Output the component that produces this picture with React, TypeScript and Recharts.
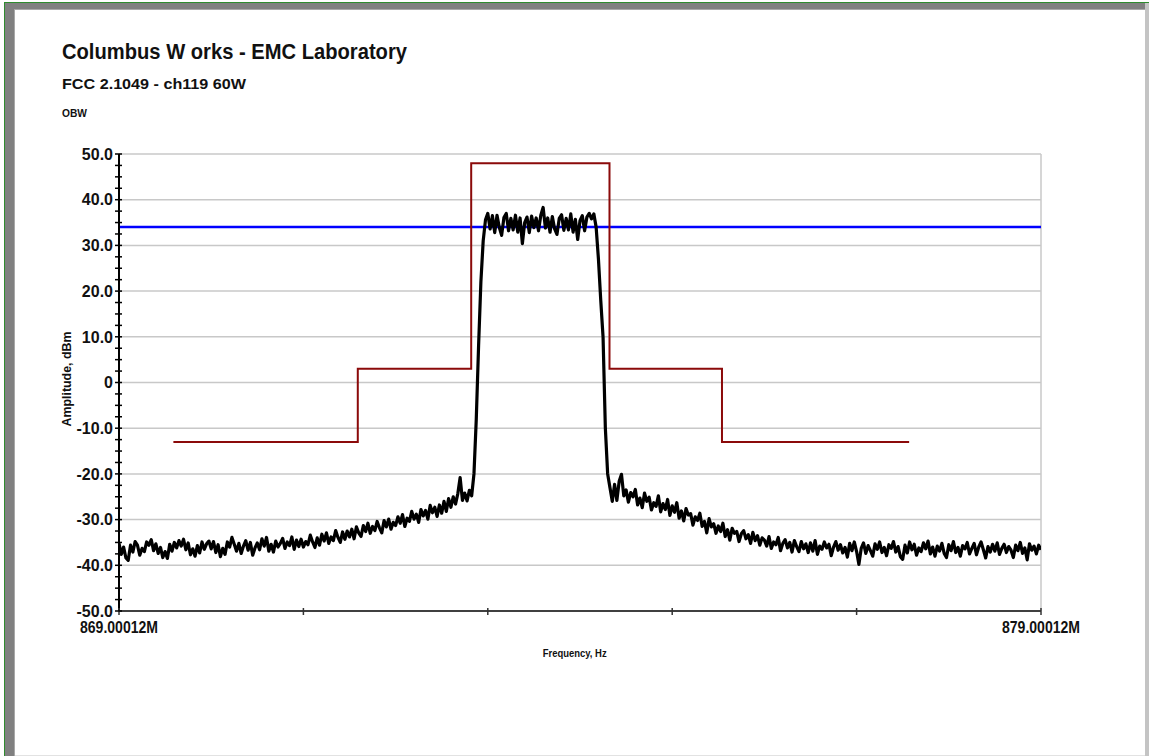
import React from "react";
import { ComposedChart, Line, XAxis, YAxis, ReferenceLine } from "recharts";

// Sweep definition (spectrum analyser span)
const F_START = 869.00012;
const F_STOP = 879.00012;
const F_STEP = 0.025;

// Measured trace amplitude (dBm), one value per sweep point
const traceDbm: number[] = [
  -35.2, -37.6, -36.0, -38.4, -38.9, -35.6, -37.1, -34.8, -35.6, -37.8, -36.3, -37.0, -34.9, -35.6, -34.4, -36.8, -35.3, -37.4, -36.1, -38.3,
  -37.0, -38.5, -35.4, -36.9, -35.0, -36.2, -34.6, -35.8, -34.3, -36.6, -35.1, -37.7, -36.4, -38.0, -35.7, -37.3, -34.9, -36.5, -35.3, -34.7,
  -36.4, -34.8, -37.2, -35.5, -38.1, -36.3, -37.6, -34.9, -36.0, -33.9, -35.4, -36.9, -35.2, -37.4, -35.8, -34.6, -36.7, -35.0, -37.8, -36.2,
  -35.1, -36.6, -34.2, -35.8, -33.9, -36.9, -35.4, -37.1, -34.7, -36.0, -35.2, -34.1, -36.3, -34.9, -35.7, -33.8, -36.5, -34.5, -35.9, -34.3,
  -36.0, -34.8, -35.5, -33.4, -34.9, -36.1, -34.0, -35.6, -33.2, -34.7, -32.9, -35.2, -33.8, -34.6, -32.4, -33.9, -35.0, -32.7, -34.3, -32.5,
  -33.8, -32.1, -34.2, -31.6, -32.9, -33.7, -31.3, -32.6, -30.8, -33.0, -31.5, -32.4, -30.4, -31.8, -32.9, -30.2, -31.6, -29.9, -32.1, -30.6,
  -31.3, -29.4, -30.8, -28.9, -31.5, -29.7, -30.4, -28.2, -29.9, -28.8, -30.6, -27.8, -29.2, -28.0, -29.9, -26.9, -28.5, -27.3, -29.3, -26.8,
  -28.6, -26.0, -28.2, -25.4, -27.3, -25.0, -26.6, -24.3, -20.8, -25.8, -24.2, -25.9, -23.6, -24.8, -20.0, -8.0, 8.0, 22.0, 31.0, 35.6,
  37.0, 33.6, 36.5, 32.8, 36.6, 33.9, 32.2, 36.1, 37.0, 33.2, 35.9, 33.4, 36.6, 32.9, 36.0, 30.4, 35.0, 36.2, 32.8, 36.4,
  33.9, 36.0, 33.2, 36.6, 38.3, 33.8, 36.0, 32.9, 36.3, 33.6, 32.4, 35.9, 36.7, 33.3, 35.9, 33.4, 36.9, 32.9, 35.7, 31.3,
  35.4, 36.5, 33.2, 36.2, 37.0, 35.8, 36.9, 34.0, 27.0, 18.0, 10.0, -10.0, -20.0, -23.0, -26.0, -22.3, -25.8, -21.6, -20.1, -24.8,
  -23.5, -26.2, -24.1, -25.0, -23.4, -26.8, -25.3, -27.4, -24.2, -26.0, -25.1, -27.9, -26.3, -27.1, -24.8, -28.3, -26.5, -27.8, -25.6, -29.1,
  -27.0, -28.4, -26.3, -29.7, -28.1, -30.3, -27.6, -29.0, -28.7, -31.2, -29.4, -30.2, -28.6, -31.5, -30.4, -32.9, -29.8, -31.6, -30.9, -33.0,
  -31.4, -32.6, -30.8, -33.7, -32.2, -34.5, -31.9, -33.0, -32.6, -34.8, -33.1, -32.4, -34.2, -33.3, -35.2, -32.8, -34.6, -33.5, -35.6, -34.0,
  -34.5, -35.8, -33.7, -36.3, -34.9, -35.5, -33.9, -36.8, -35.2, -34.4, -36.2, -35.0, -37.1, -34.6, -35.9, -37.0, -34.8, -36.4, -35.3, -37.2,
  -35.1, -36.9, -34.6, -37.6, -35.8, -36.5, -34.9, -36.2, -35.4, -37.9, -36.0, -34.8, -36.7, -35.5, -37.3, -36.1, -38.2, -35.2, -36.8, -34.9,
  -37.0, -39.8, -36.3, -35.1, -37.4, -35.7, -36.8, -38.0, -35.3, -36.5, -34.9, -37.2, -36.1, -37.9, -35.5, -36.3, -34.8, -37.1, -35.9, -38.1,
  -38.7, -35.6, -37.3, -34.9, -36.6, -35.4, -37.8, -36.2, -37.0, -35.1, -36.4, -34.7, -37.5, -36.0, -38.0, -35.8, -36.9, -35.2, -37.4, -38.3,
  -35.5, -36.8, -34.8, -37.2, -36.1, -38.0, -35.7, -36.4, -35.0, -37.5, -36.3, -35.2, -37.7, -36.0, -34.9, -36.6, -38.4, -35.9, -37.1, -35.4,
  -36.9, -35.1, -37.6, -36.3, -35.4, -37.2, -35.9, -36.7, -38.3, -35.6, -36.8, -35.0, -37.4, -36.2, -38.8, -35.3, -36.7, -35.8, -37.5, -35.6,
  -36.6,
];

// Emission mask (limit line) corners
const limitFreqs: number[] = [869.59, 871.59, 871.59, 872.82, 872.82, 874.32, 874.32, 875.54, 875.54, 877.57];
const limitDbm: number[] = [-13, -13, 3, 3, 48, 48, 3, 3, -13, -13];

// Reference level (blue)
const refLevelDbm = 34;

// Axis ticks and labels
const xTicks: number[] = [869.00012, 871.00012, 873.00012, 875.00012, 877.00012, 879.00012];
const xTickLabels: string[] = ["869.00012M", "", "", "", "", "879.00012M"];
const yMajor: number[] = [-50, -40, -30, -20, -10, 0, 10, 20, 30, 40, 50];
const yMajorLabels: string[] = ["-50.0", "-40.0", "-30.0", "-20.0", "-10.0", "0", "10.0", "20.0", "30.0", "40.0", "50.0"];
const yTicks: number[] = [
  -50, -47.5, -45, -42.5, -40, -37.5, -35, -32.5, -30, -27.5, -25, -22.5, -20, -17.5, -15, -12.5, -10, -7.5, -5, -2.5,
  0, 2.5, 5, 7.5, 10, 12.5, 15, 17.5, 20, 22.5, 25, 27.5, 30, 32.5, 35, 37.5, 40, 42.5, 45, 47.5, 50,
];

const traceData = traceDbm.map((v, i) => ({ f: F_START + i * F_STEP, v }));
const limitData = limitFreqs.map((f, i) => ({ f, v: limitDbm[i] }));
const refData = [
  { f: F_START, v: refLevelDbm },
  { f: F_STOP, v: refLevelDbm },
];

const FONT = "'Liberation Sans', Arial, Helvetica, sans-serif";

const XTick = (props: any) => {
  const { x, y, index } = props;
  const label = xTickLabels[index];
  return (
    <g>
      <line x1={x} x2={x} y1={y - 3} y2={y + 4} stroke="#333" strokeWidth={1.5} />
      {label ? (
        <text
          x={x}
          y={y + 22}
          textAnchor="middle"
          fontFamily={FONT}
          fontWeight="bold"
          fontSize={16}
          textLength={78}
          lengthAdjust="spacingAndGlyphs"
          fill="#111"
        >
          {label}
        </text>
      ) : null}
    </g>
  );
};

const YTick = (props: any) => {
  const { x, y, payload } = props;
  const idx = yMajor.indexOf(payload.value);
  return (
    <g>
      <line x1={x - 4} x2={x + 3} y1={y} y2={y} stroke="#000" strokeWidth={1.5} />
      {idx >= 0 ? (
        <text
          x={x - 6}
          y={y}
          dy="0.36em"
          textAnchor="end"
          fontFamily={FONT}
          fontWeight="bold"
          fontSize={16}
          fill="#111"
        >
          {yMajorLabels[idx]}
        </text>
      ) : null}
    </g>
  );
};

const box = (left: number, top: number, width: number, height: number, color: string) => (
  <div style={{ position: "absolute", left, top, width, height, background: color }} />
);

export default function App() {
  return (
    <div style={{ position: "absolute", left: 0, top: 0, width: 1149, height: 756, background: "#fff", overflow: "hidden" }}>
      <div style={{ position: "absolute", left: 0, top: 0 }}>
        <ComposedChart width={1149} height={756} margin={{ top: 154, right: 108, bottom: 115, left: 59 }}>
          <XAxis
            type="number"
            dataKey="f"
            domain={[F_START, F_STOP]}
            allowDataOverflow
            ticks={xTicks}
            interval={0}
            tick={<XTick />}
            tickSize={0}
            tickMargin={0}
            tickLine={false}
            height={30}
            axisLine={{ stroke: "#404040", strokeWidth: 2 }}
          />
          <YAxis
            type="number"
            dataKey="v"
            domain={[-50, 50]}
            allowDataOverflow
            ticks={yTicks}
            interval={0}
            tick={<YTick />}
            tickSize={0}
            tickMargin={0}
            tickLine={false}
            width={60}
            axisLine={{ stroke: "#000", strokeWidth: 2 }}
          />
          {yMajor
            .filter((v) => v !== -50)
            .map((v) => (
              <ReferenceLine key={"g" + v} y={v} stroke="#c8c8c8" strokeWidth={1.5} />
            ))}
          <ReferenceLine x={F_STOP} stroke="#c8c8c8" strokeWidth={1.5} />
          <Line
            data={refData}
            dataKey="v"
            type="linear"
            stroke="#0000ff"
            strokeWidth={2.5}
            dot={false}
            isAnimationActive={false}
          />
          <Line
            data={limitData}
            dataKey="v"
            type="linear"
            stroke="#8b0a0a"
            strokeWidth={2}
            dot={false}
            isAnimationActive={false}
          />
          <Line
            data={traceData}
            dataKey="v"
            type="linear"
            stroke="#000"
            strokeWidth={3.2}
            strokeLinejoin="round"
            dot={false}
            isAnimationActive={false}
          />
        </ComposedChart>
      </div>
      <svg width={1149} height={756} style={{ position: "absolute", left: 0, top: 0, pointerEvents: "none" }}>
        <text x={62} y={59} fontFamily={FONT} fontWeight="bold" fontSize={22} textLength={345} lengthAdjust="spacingAndGlyphs" fill="#111">
          Columbus W orks - EMC Laboratory
        </text>
        <text x={62} y={89} fontFamily={FONT} fontWeight="bold" fontSize={15.5} textLength={184} lengthAdjust="spacingAndGlyphs" fill="#111">
          FCC 2.1049 - ch119 60W
        </text>
        <text x={62} y={117} fontFamily={FONT} fontWeight="bold" fontSize={10} textLength={25} lengthAdjust="spacingAndGlyphs" fill="#111">
          OBW
        </text>
        <text
          x={574.7}
          y={657}
          textAnchor="middle"
          fontFamily={FONT}
          fontWeight="bold"
          fontSize={11.5}
          textLength={64}
          lengthAdjust="spacingAndGlyphs"
          fill="#111"
        >
          Frequency, Hz
        </text>
        <text
          transform="translate(71, 379) rotate(-90)"
          x={0}
          y={0}
          textAnchor="middle"
          fontFamily={FONT}
          fontWeight="bold"
          fontSize={12}
          textLength={95}
          lengthAdjust="spacingAndGlyphs"
          fill="#111"
        >
          Amplitude, dBm
        </text>
      </svg>
      {/* page frame */}
      <div style={{ position: "absolute", left: 0, top: 0, width: 1149, height: 756, pointerEvents: "none" }}>
        {box(4, 2, 1145, 1, "#2e8b2e")}
        {box(4, 2, 1, 754, "#2e8b2e")}
        {box(5, 3, 1140, 6, "#808080")}
        {box(5, 3, 10, 753, "#808080")}
        {box(15, 9, 1130, 1, "#a8a8a8")}
        {box(14, 9, 1, 747, "#a8a8a8")}
        {box(1145, 3, 4, 753, "#c4c4c4")}
        {box(15, 755, 1130, 1, "#e2e2e2")}
      </div>
    </div>
  );
}
